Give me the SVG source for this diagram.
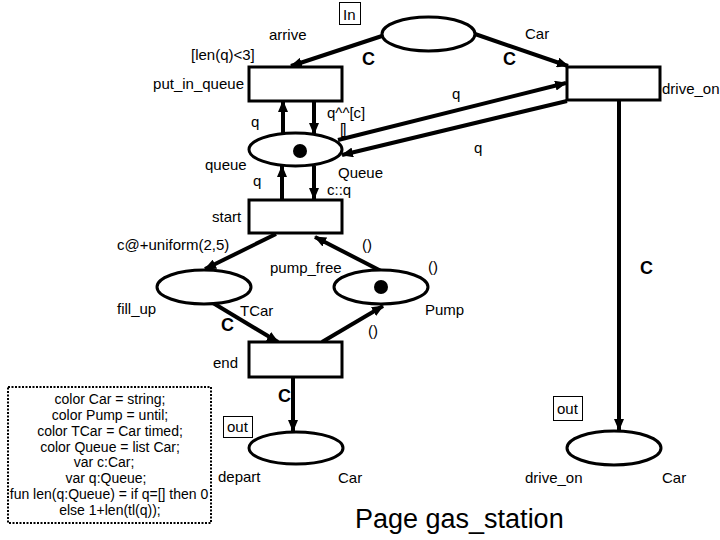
<svg xmlns="http://www.w3.org/2000/svg" width="720" height="540" viewBox="0 0 720 540">
<defs>
<marker id="ah" markerUnits="userSpaceOnUse" markerWidth="12" markerHeight="10" refX="11" refY="5" orient="auto">
<path d="M0,0 L12,5 L0,10 z" fill="#000"/>
</marker>
<style>
.pl{fill:#fff;stroke:#000;stroke-width:3}
.tr{fill:#fff;stroke:#000;stroke-width:3}
.arc{fill:none;stroke:#000;stroke-width:4;marker-end:url(#ah)}
.t{font-family:"Liberation Sans",Arial,sans-serif;font-size:15px;fill:#000}
.c{font-family:"Liberation Sans",Arial,sans-serif;font-size:18px;font-weight:bold;fill:#000}
.d{font-family:"Liberation Sans",Arial,sans-serif;font-size:14px;fill:#000;text-anchor:middle}
.box{fill:#fff;stroke:#000;stroke-width:1}
.tok{fill:#000}
</style>
</defs>
<rect width="720" height="540" fill="#fff"/>

<g id="connectors">
<path class="arc" d="M382,36 L291,66"/>
<path class="arc" d="M475,34 L568,66"/>
<path class="arc" d="M314,101 L314,134"/>
<path class="arc" d="M283,133 L283,101"/>
<path class="arc" d="M314,166 L314,199"/>
<path class="arc" d="M282,200 L282,166"/>
<path class="arc" d="M338,140 L566,83"/>
<path class="arc" d="M567,101 L342,155"/>
<path class="arc" d="M276,234 L205,269"/>
<path class="arc" d="M383,272 L315,237"/>
<path class="arc" d="M213,303 L278,342"/>
<path class="arc" d="M322,342 L383,306"/>
<path class="arc" d="M293,377 L293,431"/>
<path class="arc" d="M619,100 L619,430"/>
</g>

<g id="arrive">
<ellipse class="pl" cx="428.5" cy="34" rx="46.5" ry="17"/>
<rect class="box" x="339.5" y="2.5" width="21" height="22"/>
<text class="t" x="343" y="20">In</text>
<text class="t" x="269" y="40">arrive</text>
<text class="t" x="525" y="39">Car</text>
</g>

<g id="put_in_queue">
<rect class="tr" x="249" y="67" width="93" height="34"/>
<text class="t" x="244" y="89" text-anchor="end">put_in_queue</text>
<text class="t" x="191" y="60">[len(q)&lt;3]</text>
</g>

<g id="drive_on_t">
<rect class="tr" x="567" y="67" width="93" height="33"/>
<text class="t" x="662" y="94">drive_on</text>
</g>

<g id="queue">
<ellipse class="pl" cx="295.5" cy="149.5" rx="46.5" ry="16.5"/>
<circle class="tok" cx="300" cy="151" r="7"/>
<text class="t" x="205" y="170">queue</text>
<text class="t" x="338" y="178">Queue</text>
<text class="t" x="340" y="134" letter-spacing="-2">[]</text>
</g>

<g id="start">
<rect class="tr" x="249" y="200" width="93" height="33"/>
<text class="t" x="212" y="222">start</text>
</g>

<g id="fill_up">
<ellipse class="pl" cx="204" cy="287" rx="47" ry="17"/>
<text class="t" x="117" y="314">fill_up</text>
<text class="t" x="240" y="316">TCar</text>
</g>

<g id="pump_free">
<ellipse class="pl" cx="381" cy="287" rx="47" ry="17"/>
<circle class="tok" cx="381" cy="287" r="7"/>
<text class="t" x="270" y="273">pump_free</text>
<text class="t" x="425" y="315">Pump</text>
<text class="t" x="428" y="272">()</text>
</g>

<g id="end">
<rect class="tr" x="249" y="342" width="93" height="35"/>
<text class="t" x="213" y="368">end</text>
</g>

<g id="depart">
<ellipse class="pl" cx="296" cy="448" rx="47" ry="16"/>
<rect class="box" x="223.5" y="416.5" width="29" height="21"/>
<text class="t" x="227" y="432">out</text>
<text class="t" x="218" y="482">depart</text>
<text class="t" x="338" y="483">Car</text>
</g>

<g id="drive_on_p">
<ellipse class="pl" cx="614" cy="448" rx="47" ry="17"/>
<rect class="box" x="553.5" y="396.5" width="29" height="24"/>
<text class="t" x="557" y="414">out</text>
<text class="t" x="525" y="483">drive_on</text>
<text class="t" x="662" y="483">Car</text>
</g>

<g id="arc-labels">
<text class="c" x="362" y="65">C</text>
<text class="c" x="503" y="65">C</text>
<text class="t" x="452" y="99">q</text>
<text class="t" x="251" y="127">q</text>
<text class="t" x="327" y="118">q^^[c]</text>
<text class="t" x="474" y="153">q</text>
<text class="t" x="253" y="186">q</text>
<text class="t" x="327" y="195">c::q</text>
<text class="t" x="117" y="250">c@+uniform(2,5)</text>
<text class="t" x="362" y="250">()</text>
<text class="c" x="640" y="274">C</text>
<text class="c" x="221" y="331">C</text>
<text class="t" x="368" y="336">()</text>
<text class="c" x="278" y="402">C</text>
</g>

<g id="declarations">
<rect x="8" y="387" width="203" height="136" fill="none" stroke="#000" stroke-width="2" stroke-dasharray="2 1.5"/>
<text class="d" x="110" y="404">color Car = string;</text>
<text class="d" x="110" y="420">color Pump = until;</text>
<text class="d" x="110" y="436">color TCar = Car timed;</text>
<text class="d" x="110" y="452">color Queue = list Car;</text>
<text class="d" x="104" y="467">var c:Car;</text>
<text class="d" x="106" y="483">var q:Queue;</text>
<text class="d" x="109" y="499">fun len(q:Queue) = if q=[] then 0</text>
<text class="d" x="110" y="515">else 1+len(tl(q));</text>
</g>

<text x="355" y="528" font-family="Liberation Sans, Arial, sans-serif" font-size="27">Page gas_station</text>
</svg>
